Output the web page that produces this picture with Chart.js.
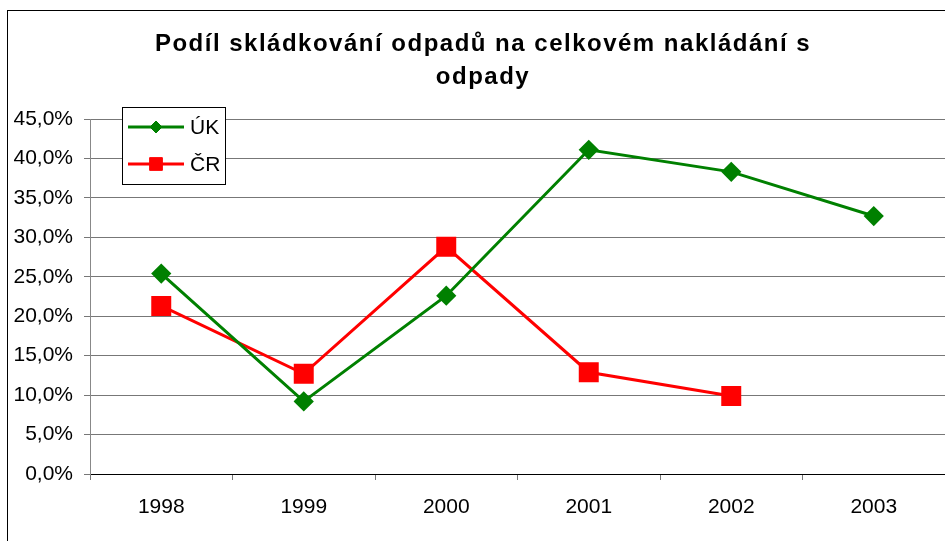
<!DOCTYPE html>
<html lang="cs">
<head>
    <meta charset="UTF-8">
    <title>Podíl skládkování odpadů</title>
    <script src="https://cdn.jsdelivr.net/npm/chart.js"></script>
    <style>
        body { margin: 0; background: #fff; }
        canvas { display: block; }
    </style>
</head>
<body>
    <canvas id="landfillChart" width="945" height="541"></canvas>
    <script>
        // data
        const years = ['1998', '1999', '2000', '2001', '2002', '2003'];
        const ukValues = [25.4, 9.2, 22.6, 41.1, 38.3, 32.7];
        const crValues = [21.3, 12.7, 28.8, 12.9, 9.9, null];
        const yTicks = [0, 5, 10, 15, 20, 25, 30, 35, 40, 45];
        const titleLines = ['Podíl skládkování odpadů na celkovém nakládání s', 'odpady'];

        const FONT = 'Liberation Sans, Arial, sans-serif';

        // outer frame + title, the title is a bit letter-spaced like in Excel
        const framePlugin = {
            id: 'frame',
            beforeDraw(chart) {
                const ctx = chart.ctx;
                ctx.save();
                ctx.fillStyle = '#fff';
                ctx.fillRect(0, 0, chart.width, chart.height);
                ctx.strokeStyle = '#000';
                ctx.lineWidth = 1;
                ctx.strokeRect(7.5, 10.5, 1000, 1000);

                ctx.fillStyle = '#000';
                ctx.font = 'bold 24px ' + FONT;
                ctx.letterSpacing = '1.5px';
                ctx.textAlign = 'center';
                ctx.textBaseline = 'middle';
                titleLines.forEach((line, i) => {
                    ctx.fillText(line, 483, 44 + i * 33);
                });
                ctx.restore();
            }
        };

        // legend box drawn inside the plot, top left
        const boxLegend = {
            id: 'boxLegend',
            afterDraw(chart) {
                const ctx = chart.ctx;
                const x0 = 122.5, y0 = 107.5, w = 103, h = 77;
                ctx.save();
                ctx.fillStyle = '#fff';
                ctx.fillRect(x0, y0, w, h);
                ctx.strokeStyle = '#000';
                ctx.lineWidth = 1;
                ctx.strokeRect(x0, y0, w, h);
                chart.data.datasets.forEach((ds, i) => {
                    const y = 127 + i * 37;
                    ctx.strokeStyle = ds.borderColor;
                    ctx.lineWidth = 3;
                    ctx.beginPath();
                    ctx.moveTo(128, y);
                    ctx.lineTo(184, y);
                    ctx.stroke();
                    ctx.fillStyle = ds.pointBackgroundColor;
                    ctx.strokeStyle = ds.pointBorderColor;
                    ctx.lineWidth = 1;
                    Chart.helpers.drawPoint(ctx, {
                        pointStyle: ds.pointStyle,
                        radius: ds.pointStyle === 'rect' ? 9 : 6,
                        borderWidth: 1,
                        rotation: 0
                    }, 156, y);
                    ctx.fillStyle = '#000';
                    ctx.font = '21px ' + FONT;
                    ctx.textBaseline = 'middle';
                    ctx.fillText(ds.label, 190, y + 1);
                });
                ctx.restore();
            }
        };

        const ctx = document.getElementById('landfillChart').getContext('2d');
        new Chart(ctx, {
            type: 'line',
            data: {
                labels: years,
                datasets: [
                    {
                        label: 'ÚK',
                        data: ukValues,
                        borderColor: '#008000',
                        backgroundColor: '#008000',
                        pointBackgroundColor: '#008000',
                        pointBorderColor: '#008000',
                        pointStyle: 'rectRot',
                        pointRadius: 8,
                        borderWidth: 3,
                        tension: 0
                    },
                    {
                        label: 'ČR',
                        data: crValues,
                        borderColor: '#ff0000',
                        backgroundColor: '#ff0000',
                        pointBackgroundColor: '#ff0000',
                        pointBorderColor: '#ff0000',
                        pointStyle: 'rect',
                        pointRadius: 12,
                        borderWidth: 3,
                        tension: 0
                    }
                ]
            },
            options: {
                responsive: false,
                animation: false,
                layout: { autoPadding: false, padding: { left: 8, right: 0, top: 119, bottom: 0 } },
                plugins: {
                    legend: { display: false },
                    tooltip: { enabled: false },
                    title: { display: false }
                },
                scales: {
                    x: {
                        offset: true,
                        afterFit(axis) {
                            axis.height = 67;
                        },
                        grid: {
                            offset: true,
                            drawOnChartArea: false,
                            drawTicks: true,
                            tickLength: 6,
                            color: '#777'
                        },
                        border: { color: '#000', width: 1 },
                        ticks: {
                            color: '#000',
                            padding: 15,
                            font: { family: FONT, size: 21 }
                        }
                    },
                    y: {
                        min: 0,
                        max: 45,
                        afterFit(axis) { axis.width = 82; },
                        afterBuildTicks(axis) {
                            axis.ticks = yTicks.map(v => ({ value: v }));
                        },
                        grid: {
                            color: '#777',
                            tickLength: 6
                        },
                        border: { color: '#888', width: 1 },
                        ticks: {
                            color: '#000',
                            padding: 11,
                            font: { family: FONT, size: 21 },
                            callback: (v) => v.toFixed(1).replace('.', ',') + '%'
                        }
                    }
                }
            },
            plugins: [framePlugin, boxLegend]
        });
    </script>
</body>
</html>
